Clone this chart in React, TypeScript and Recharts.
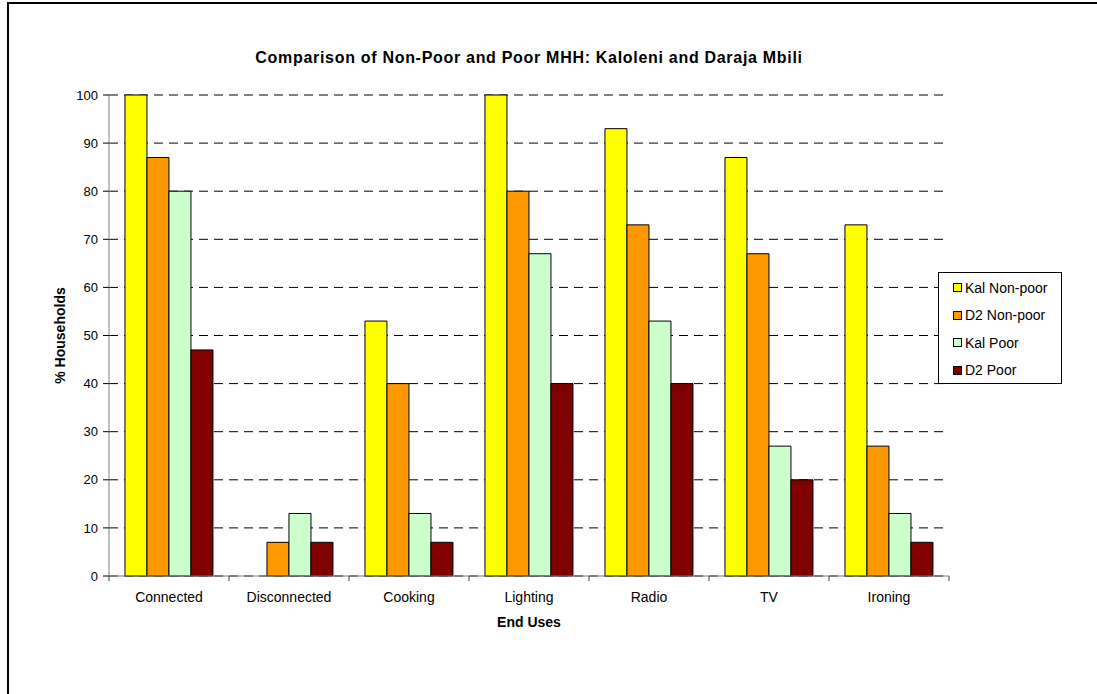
import { Bar, BarChart, CartesianGrid, Legend, XAxis, YAxis } from "recharts";

const FONT = '"Liberation Sans", Arial, sans-serif';

const endUses = ["Connected", "Disconnected", "Cooking", "Lighting", "Radio", "TV", "Ironing"];
const kalNonPoor = [100, 0, 53, 100, 93, 87, 73];
const d2NonPoor = [87, 7, 40, 80, 73, 67, 27];
const kalPoor = [80, 13, 13, 67, 53, 27, 13];
const d2Poor = [47, 7, 7, 40, 40, 20, 7];

const yTicks = [0, 10, 20, 30, 40, 50, 60, 70, 80, 90, 100];

const series = [
  { key: "kalNonPoor", name: "Kal Non-poor", color: "#FFFF00" },
  { key: "d2NonPoor", name: "D2 Non-poor", color: "#FF9900" },
  { key: "kalPoor", name: "Kal Poor", color: "#CCFFCC" },
  { key: "d2Poor", name: "D2 Poor", color: "#800000" },
];

const data = endUses.map((use, i) => ({
  use,
  kalNonPoor: kalNonPoor[i],
  d2NonPoor: d2NonPoor[i],
  kalPoor: kalPoor[i],
  d2Poor: d2Poor[i],
}));

const WIDTH = 1097;
const HEIGHT = 694;
const MARGIN = { top: 95, right: 148, bottom: 63, left: 49 };
const Y_AXIS_W = 60;
const PLOT_W = WIDTH - MARGIN.left - MARGIN.right - Y_AXIS_W;
const BAND = PLOT_W / endUses.length;
const TICK_SIZE = 6;
const TICK_MARGIN = 10;

// category label in the middle, small tick marks on the band edges
function EndUseTick(props: any) {
  const { x, y, payload, index } = props;
  const axisY = y - TICK_SIZE - TICK_MARGIN;
  const half = BAND / 2;
  return (
    <g>
      <line x1={x - half} x2={x - half} y1={axisY} y2={axisY + 5} stroke="#404040" />
      {index === endUses.length - 1 && (
        <line x1={x + half} x2={x + half} y1={axisY} y2={axisY + 5} stroke="#404040" />
      )}
      <text
        x={x}
        y={y}
        dy="0.71em"
        textAnchor="middle"
        fill="#000"
        fontSize={14}
        fontFamily={FONT}
      >
        {payload.value}
      </text>
    </g>
  );
}

function LegendBox() {
  return (
    <div
      style={{
        border: "1px solid #000",
        background: "#fff",
        boxSizing: "border-box",
        width: 124,
        height: 112,
        padding: "1px 0 0 14px",
        fontFamily: FONT,
        fontSize: 14,
        color: "#000",
      }}
    >
      {series.map((s) => (
        <div key={s.key} style={{ display: "flex", alignItems: "center", height: 27.5 }}>
          <span
            style={{
              display: "inline-block",
              width: 7,
              height: 7,
              background: s.color,
              border: "1px solid #000",
              marginRight: 3,
            }}
          />
          {s.name}
        </div>
      ))}
    </div>
  );
}

export default function App() {
  return (
    <div
      style={{
        position: "fixed",
        left: 0,
        top: 0,
        width: WIDTH,
        height: HEIGHT,
        overflow: "hidden",
        background: "#fff",
        fontFamily: FONT,
      }}
    >
      <div
        style={{
          position: "absolute",
          left: 7,
          top: 2,
          width: 1200,
          height: 800,
          border: "2px solid #000",
        }}
      />
      <div
        style={{
          position: "absolute",
          left: 69,
          width: 920,
          top: 49,
          textAlign: "center",
          fontWeight: 700,
          fontSize: 16,
          letterSpacing: 0.7,
          color: "#000",
        }}
      >
        Comparison of Non-Poor and Poor MHH: Kaloleni and Daraja Mbili
      </div>
      <div style={{ position: "absolute", left: 0, top: 0 }}>
        <BarChart
          width={WIDTH}
          height={HEIGHT}
          data={data}
          margin={MARGIN}
          barCategoryGap="13.3%"
          barGap={0}
        >
          <CartesianGrid
            vertical={false}
            stroke="#000"
            strokeDasharray="9 6"
          />
          <XAxis
            dataKey="use"
            height={55}
            axisLine={{ stroke: "#808080" }}
            tickLine={false}
            tickSize={TICK_SIZE}
            tickMargin={TICK_MARGIN}
            interval={0}
            tick={<EndUseTick />}
            label={{
              value: "End Uses",
              position: "insideBottom",
              offset: 4,
              fill: "#000",
              fontSize: 14,
              fontWeight: 700,
              fontFamily: FONT,
            }}
          />
          <YAxis
            width={Y_AXIS_W}
            domain={[0, 100]}
            ticks={yTicks}
            interval={0}
            tickSize={6}
            tickMargin={5}
            axisLine={{ stroke: "#808080" }}
            tickLine={{ stroke: "#000" }}
            tick={{ fill: "#000", fontSize: 13, fontFamily: FONT }}
            label={{
              value: "% Households",
              angle: -90,
              position: "insideLeft",
              offset: 11,
              fill: "#000",
              fontSize: 14,
              fontWeight: 700,
              fontFamily: FONT,
              style: { textAnchor: "middle" },
            }}
          />
          <Legend
            layout="vertical"
            align="center"
            verticalAlign="middle"
            content={() => <LegendBox />}
            wrapperStyle={{ left: 938, top: 272, width: 124, height: 112 }}
          />
          {series.map((s) => (
            <Bar
              key={s.key}
              dataKey={s.key}
              name={s.name}
              fill={s.color}
              stroke="#000"
              strokeWidth={1}
              isAnimationActive={false}
            />
          ))}
        </BarChart>
      </div>
    </div>
  );
}
